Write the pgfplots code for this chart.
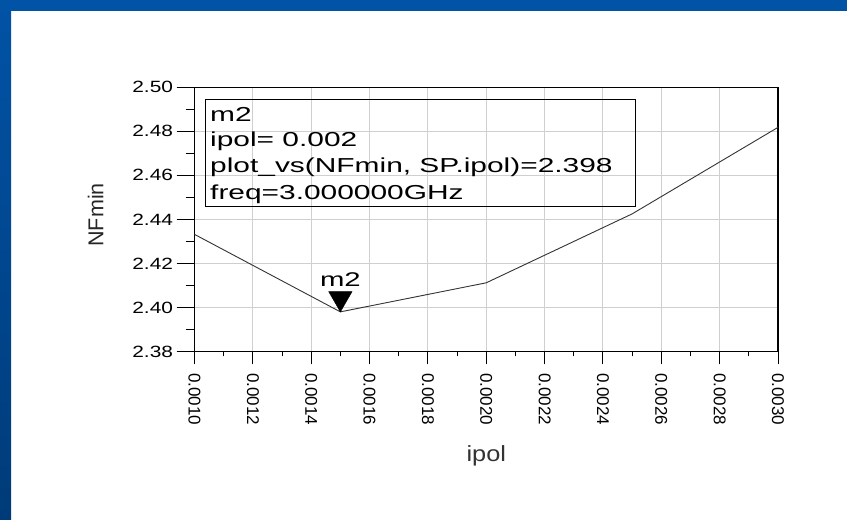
\documentclass[border=0pt]{standalone}
\usepackage{pgfplots}
\pgfplotsset{compat=1.18}
\usepackage{fontspec}
\setmainfont{Liberation Sans}
\newfontfamily\tickfont{Liberation Sans}[FakeStretch=1.28]
\newfontfamily\mkfont{Liberation Sans}[FakeStretch=1.48]
\newfontfamily\labfont{Liberation Sans}[FakeStretch=1.15]
\definecolor{adsblue}{HTML}{0153A6}
\definecolor{adsbluedark}{HTML}{003B78}
\definecolor{gridgray}{HTML}{CFCFCF}
\begin{document}
\begin{tikzpicture}[x=1bp,y=1bp]
\path[use as bounding box] (0,0) rectangle (847,520);
\fill[white] (0,0) rectangle (847,520);
\fill[adsblue] (0,509) rectangle (847,520);
\shade[top color=adsblue, bottom color=adsbluedark] (0,0) rectangle (11,520);
\begin{axis}[
  at={(194.5bp,168.5bp)}, anchor=south west,
  scale only axis, width=583.5bp, height=264.2bp,
  xmin=0.001, xmax=0.003, ymin=2.38, ymax=2.50,
  xtick={0.001,0.0012,0.0014,0.0016,0.0018,0.002,0.0022,0.0024,0.0026,0.0028,0.003},
  ytick={2.38,2.40,2.42,2.44,2.46,2.48,2.50},
  minor x tick num=1, minor y tick num=1,
  tick align=outside, tick pos=left,
  major tick length=18bp, minor tick length=9bp,
  xtick style={/pgfplots/major tick length=13bp,/pgfplots/minor tick length=5bp},
  grid=major, major grid style={gridgray, line width=1bp},
  axis line style={black, line width=1.2bp},
  tick style={black, line width=1bp},
  scaled x ticks=false, scaled y ticks=false,
  /pgf/number format/assume math mode=true,
  xticklabel style={/pgf/number format/.cd, fixed, fixed zerofill, precision=4, /tikz/.cd,
     rotate=-90, anchor=west, font=\fontsize{17bp}{19bp}\selectfont},
  yticklabel style={/pgf/number format/.cd, fixed, fixed zerofill, precision=2, /tikz/.cd,
     anchor=east, font=\tickfont\fontsize{16.3bp}{18bp}\selectfont},
  xlabel={ipol}, ylabel={NFmin},
  every axis x label/.style={at={(rel axis cs:0.5,0)}, anchor=base, yshift=-110.5bp,
     font=\labfont\fontsize{22bp}{24bp}\selectfont, text=black!80},
  every axis y label/.style={at={(rel axis cs:0,0.517)}, xshift=-99bp, anchor=center, rotate=90,
     font=\fontsize{21.5bp}{24bp}\selectfont, text=black!85},
  clip=false,
]
\addplot[black!80, line width=0.9bp, mark=none] coordinates {
  (0.0010,2.4332) (0.0015,2.398) (0.0020,2.4112) (0.0025,2.4425) (0.0030,2.4818)
};
\addplot[only marks, mark=triangle*, mark size=13.5bp,
  mark options={black, fill=black, yshift=13.5bp, rotate=180}] coordinates {(0.0015,2.398)};
\node[anchor=base, inner sep=0, yshift=25.4bp, font=\mkfont\fontsize{19.8bp}{22bp}\selectfont]
  at (axis cs:0.0015,2.398) {m2};
\end{axis}
\draw[black, line width=1bp] (205,420) rectangle (635,313);
\begin{scope}[every node/.style={anchor=base west, inner sep=0, font=\mkfont\fontsize{20.2bp}{22bp}\selectfont}]
\node at (210,398) {m2};
\node at (210,373) {ipol= 0.002};
\node at (210,347) {plot\_vs(NFmin, SP.ipol)=2.398};
\node at (210,320) {freq=3.000000GHz};
\end{scope}
\end{tikzpicture}
\end{document}
